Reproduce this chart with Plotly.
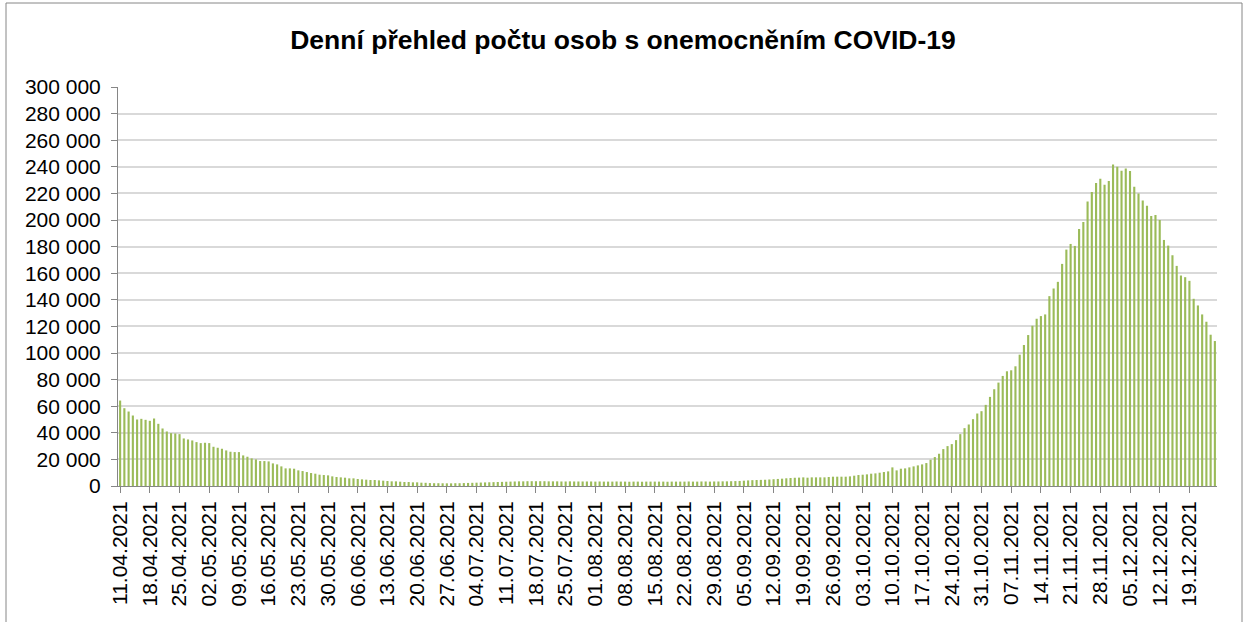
import pandas as pd
import plotly.graph_objects as go

# Daily values (persons with COVID-19), 11.04.2021 – 25.12.2021
start_date = "2021-04-11"
vals_apr = [64250, 58500, 56000, 53000, 50000, 50500, 49750, 49000, 50750, 46750,
            43250, 41000, 39750, 39500, 39000, 35750, 35000, 34250, 33000, 32250]
vals_may = [32500, 32250, 29500, 28750, 28000, 26750, 25750, 25500, 25500, 23000,
            22000, 20750, 20000, 18750, 18750, 18500, 17000, 16250, 14750, 13250,
            13250, 13000, 11750, 11250, 10500, 9750, 9250, 8500, 8250, 8000, 7250]
vals_jun = [6750, 6500, 6250, 5750, 5750, 5250, 5000, 4750, 4500, 4500,
            4250, 4000, 3750, 3500, 3500, 3250, 3000, 3000, 2750, 2750,
            2500, 2400, 2200, 2100, 2100, 2050, 2000, 2000, 2100, 2100]
vals_jul = [2200, 2300, 2400, 2500, 2600, 2700, 2800, 2900, 3000, 3100,
            3200, 3300, 3400, 3500, 3500, 3600, 3600, 3600, 3600, 3600,
            3500, 3500, 3500, 3400, 3400, 3500, 3400, 3400, 3400, 3400, 3400]
vals_aug = [3300, 3400, 3300, 3300, 3300, 3400, 3300, 3300, 3200, 3300,
            3300, 3200, 3300, 3300, 3300, 3300, 3300, 3200, 3300, 3300,
            3300, 3300, 3400, 3300, 3300, 3400, 3400, 3300, 3400, 3400, 3500]
vals_sep = [3500, 3600, 3700, 3800, 4000, 4200, 4400, 4500, 4600, 4700,
            4900, 5100, 5300, 5500, 5800, 6000, 6200, 6300, 6500, 6250,
            6500, 6500, 6500, 6500, 6750, 7000, 7000, 7000, 7000, 7250]
vals_oct = [7750, 8250, 8500, 8750, 9250, 9500, 10000, 10500, 11000, 14000,
            11750, 13000, 13250, 14000, 14750, 15500, 16250, 17250, 19750, 21750,
            24250, 27750, 30000, 31500, 34500, 39000, 43500, 46250, 50250, 54500, 56250]
vals_nov = [61000, 67000, 72750, 77750, 82750, 86250, 87000, 90000, 98750, 106000,
            113500, 120500, 125750, 127750, 129000, 142750, 148500, 153500, 167000, 177750,
            182000, 180500, 193250, 198500, 214000, 221000, 227750, 231000, 226500, 229250]
vals_dec = [241750, 240000, 237000, 238750, 236750, 225000, 220000, 214750, 210750, 203000,
            203750, 200000, 185000, 180750, 173500, 165500, 158250, 157000, 154250, 140750,
            135750, 129000, 123500, 113750, 109000]

values = vals_apr + vals_may + vals_jun + vals_jul + vals_aug + vals_sep + vals_oct + vals_nov + vals_dec
dates = pd.date_range(start_date, periods=len(values), freq="D")

tick_dates = pd.date_range("2021-04-11", "2021-12-19", freq="7D")
tick_labels = [d.strftime("%d.%m.%Y") for d in tick_dates]
y_ticks = list(range(0, 300001, 20000))

title_text = "Denní přehled počtu osob s onemocněním COVID-19"

W, H = 1246, 622
L, R, T, B = 118, 29, 87, 136

fig = go.Figure()
fig.add_trace(go.Bar(x=dates, y=values, marker=dict(color="#9BBB59", line=dict(width=0)),
                     hoverinfo="x+y"))

pw = W - L - R
ph = H - T - B
def px_to_paper_x(px):
    return (px - L) / pw
def px_to_paper_y(py):
    return (H - B - py) / ph

fig.update_layout(
    width=W, height=H,
    margin=dict(l=L, r=R, t=T, b=B),
    paper_bgcolor="white", plot_bgcolor="white",
    separators=", ",
    bargap=0.5,
    showlegend=False,
    font=dict(family="Liberation Sans, Arial, sans-serif", color="black", size=21),
    title=dict(text="<b>" + title_text + "</b>", x=0.5, xanchor="center",
               y=1 - 40 / H, yref="container", yanchor="middle",
               font=dict(size=26.5, family="Liberation Sans, Arial, sans-serif", color="black")),
    xaxis=dict(
        type="date",
        range=[pd.Timestamp("2021-04-10 12:00"), pd.Timestamp("2021-12-25 12:00")],
        tickmode="array", tickvals=list(tick_dates), ticktext=tick_labels,
        tickangle=-90, ticks="outside", ticklen=6, tickcolor="#868686",
        showline=True, linecolor="#868686", linewidth=1,
        showgrid=False, zeroline=False,
        tickfont=dict(size=21),
    ),
    yaxis=dict(
        range=[0, 300000], tickmode="array", tickvals=y_ticks,
        tickformat=",d",
        ticks="outside", ticklen=6, tickcolor="#868686",
        showline=True, linecolor="#868686", linewidth=1,
        showgrid=True, gridcolor="#d9d9d9", gridwidth=1.5,
        zeroline=False, ticklabelstandoff=6,
        tickfont=dict(size=21),
    ),
    shapes=[dict(type="rect", xref="paper", yref="paper",
                 x0=px_to_paper_x(6), x1=px_to_paper_x(1242),
                 y0=px_to_paper_y(700), y1=px_to_paper_y(3),
                 line=dict(color="#868686", width=1), fillcolor="rgba(0,0,0,0)",
                 layer="below")],
)

fig.write_html("out.html", config={"displayModeBar": False},
               post_script="document.body.style.margin='0';document.body.style.overflow='hidden';")
